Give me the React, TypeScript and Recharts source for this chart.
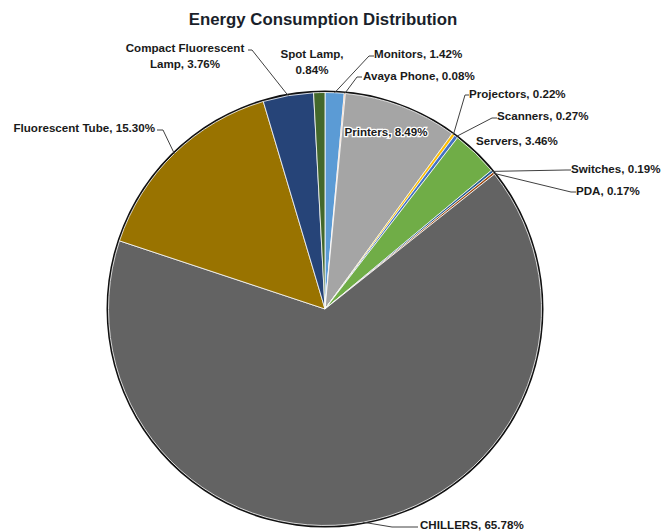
import { Pie, PieChart } from "recharts";

const categories = [
  "Monitors",
  "Avaya Phone",
  "Printers",
  "Projectors",
  "Scanners",
  "Servers",
  "Switches",
  "PDA",
  "CHILLERS",
  "Fluorescent Tube",
  "Compact Fluorescent Lamp",
  "Spot Lamp",
];

const shares = [1.42, 0.08, 8.49, 0.22, 0.27, 3.46, 0.19, 0.17, 65.78, 15.3, 3.76, 0.84];

const colors = [
  "#5B9BD5",
  "#ED7D31",
  "#A5A5A5",
  "#FFC000",
  "#4472C4",
  "#70AD47",
  "#255E91",
  "#9E480E",
  "#636363",
  "#997300",
  "#264478",
  "#43682B",
];

const data = categories.map((name, i) => ({ name, value: shares[i], fill: colors[i] }));

// Excel-style hand-placed label boxes: text anchor point, lines, leader elbow / end
type LabelSpot = {
  x: number;
  y: number;
  anchor: "start" | "middle" | "end";
  lines?: string[];
  elbow?: [number, number];
  end?: [number, number];
  halo?: boolean;
};

const labelSpots: Record<string, LabelSpot> = {
  Monitors: { x: 374, y: 53, anchor: "start", elbow: [369, 56], end: [374, 56] },
  "Avaya Phone": { x: 363, y: 75, anchor: "start", elbow: [357, 77], end: [362, 77] },
  Printers: { x: 386, y: 131, anchor: "middle", halo: true },
  Projectors: { x: 469, y: 93, anchor: "start", elbow: [465, 95], end: [469, 95] },
  Scanners: { x: 497, y: 115, anchor: "start", elbow: [492, 118], end: [497, 118] },
  Servers: { x: 476, y: 140, anchor: "start" },
  Switches: { x: 571, y: 168, anchor: "start", elbow: [566, 170], end: [571, 170] },
  PDA: { x: 576, y: 190, anchor: "start", elbow: [571, 192], end: [576, 192] },
  CHILLERS: { x: 420, y: 524, anchor: "start", elbow: [392, 527], end: [418, 527] },
  "Fluorescent Tube": { x: 155, y: 127, anchor: "end", elbow: [163, 130], end: [157, 130] },
  "Compact Fluorescent Lamp": {
    x: 185,
    y: 47,
    anchor: "middle",
    lines: ["Compact Fluorescent", "Lamp, 3.76%"],
    elbow: [252, 50],
    end: [248, 50],
  },
  "Spot Lamp": { x: 312, y: 53, anchor: "middle", lines: ["Spot Lamp,", "0.84%"] },
};

const RAD = Math.PI / 180;
const FONT = "'Liberation Sans', Arial, sans-serif";

function renderLabel(props: any) {
  const { cx, cy, midAngle, outerRadius, name, value } = props;
  const spot = labelSpots[name];
  if (!spot) return null;
  const text = `${name}, ${Number(value).toFixed(2)}%`;
  const lines = spot.lines ?? [text];
  const px = cx + outerRadius * Math.cos(-midAngle * RAD);
  const py = cy + outerRadius * Math.sin(-midAngle * RAD);
  return (
    <g>
      {spot.elbow && spot.end && (
        <polyline
          points={`${px},${py} ${spot.elbow[0]},${spot.elbow[1]} ${spot.end[0]},${spot.end[1]}`}
          fill="none"
          stroke="#404040"
          strokeWidth={1}
        />
      )}
      {lines.map((ln, i) => (
        <text
          key={i}
          x={spot.x}
          y={spot.y + i * 16.5}
          textAnchor={spot.anchor}
          dominantBaseline="central"
          fontFamily={FONT}
          fontWeight="bold"
          fontSize={11.6}
          fill="#1a1a1a"
          stroke={spot.halo ? "#ffffff" : "none"}
          strokeWidth={spot.halo ? 2.5 : 0}
          paintOrder="stroke"
        >
          {ln}
        </text>
      ))}
    </g>
  );
}

export default function App() {
  return (
    <div style={{ position: "absolute", left: 0, top: 0, background: "#fff" }}>
      <PieChart width={663} height={531}>
        <text
          x={323}
          y={19}
          textAnchor="middle"
          dominantBaseline="central"
          fontFamily={FONT}
          fontWeight="bold"
          fontSize={16.8}
          fill="#1a1f2b"
        >
          Energy Consumption Distribution
        </text>
        {/* dark outer rim */}
        <Pie
          data={[{ name: "rim", value: 1 }]}
          dataKey="value"
          cx={320}
          cy={304}
          outerRadius={218.5}
          fill="#111"
          stroke="none"
          isAnimationActive={false}
          label={false}
          labelLine={false}
        />
        <Pie
          data={data}
          dataKey="value"
          nameKey="name"
          cx={320}
          cy={304}
          outerRadius={216.5}
          startAngle={90}
          endAngle={-270}
          stroke="#ffffff"
          strokeWidth={0.8}
          isAnimationActive={false}
          label={renderLabel}
          labelLine={false}
        />
      </PieChart>
    </div>
  );
}
